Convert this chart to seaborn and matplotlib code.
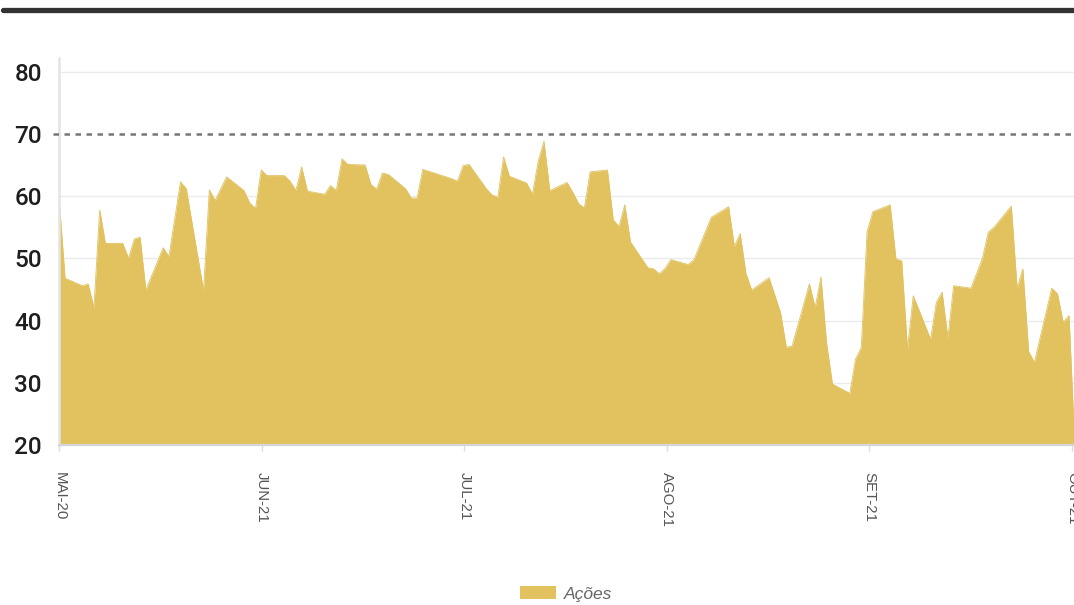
import matplotlib
matplotlib.use("Agg")
from matplotlib import pyplot as plt
from matplotlib import font_manager
import seaborn as sns
import pandas as pd

# trading-day index and index value
day = [0, 1, 4, 5, 6, 7, 8, 11, 12, 13, 14, 15, 18, 19, 21, 22, 25, 26, 27, 29,
       32, 33, 34, 35, 36, 39, 40, 41, 42, 43, 46, 47, 48, 49, 50, 53, 54, 55, 56, 57,
       60, 61, 62, 63, 67, 68, 69, 70, 71, 73, 74, 75, 76, 77, 78, 81, 82, 83, 84, 85,
       88, 89, 90, 91, 92, 95, 96, 97, 98, 99, 102, 103, 104, 105, 106, 109, 110, 113, 116, 117,
       118, 119, 120, 123, 125, 126, 127, 130, 131, 132, 133, 134, 137, 138, 139, 140, 141, 144, 145, 146,
       147, 148, 151, 152, 153, 154, 155, 158, 160, 161, 162, 165, 166, 167, 168, 169, 172, 173, 174, 175,
       176]
acoes = [59.1, 46.8, 45.6, 45.9, 42.1, 57.8, 52.4, 52.4, 50.0, 53.1, 53.4, 44.9, 51.7, 50.3, 62.3, 61.2, 44.8, 61.0, 59.3, 63.1,
         60.9, 58.9, 58.0, 64.2, 63.3, 63.3, 62.4, 60.9, 64.7, 60.8, 60.3, 61.7, 60.9, 66.0, 65.1, 65.0, 61.9, 61.1, 63.7, 63.5,
         61.2, 59.7, 59.7, 64.3, 63.1, 62.8, 62.4, 64.9, 65.1, 62.5, 61.2, 60.2, 59.8, 66.3, 63.2, 62.1, 60.3, 65.6, 68.8, 60.9,
         62.2, 60.6, 58.8, 58.1, 63.9, 64.2, 56.2, 55.1, 58.6, 52.6, 48.5, 48.3, 47.5, 48.4, 49.8, 49.0, 49.8, 56.6, 58.3, 51.9,
         54.0, 47.6, 44.9, 46.9, 41.3, 35.7, 35.9, 45.9, 42.1, 47.0, 36.2, 29.8, 28.3, 33.8, 35.7, 54.3, 57.5, 58.6, 49.9, 49.6,
         35.4, 44.0, 37.0, 42.9, 44.6, 37.2, 45.6, 45.2, 50.0, 54.2, 55.0, 58.4, 45.2, 48.3, 35.0, 33.3, 45.2, 44.3, 39.7, 40.8,
         20.0]

tick_pos = [0, 35.1, 70.2, 105.3, 140.4, 175.5]
tick_labels = ["MAI-20", "JUN-21", "JUL-21", "AGO-21", "SET-21", "OUT-21"]
y_ticks = [20, 30, 40, 50, 60, 70, 80]
limite = 70

df = pd.DataFrame({"day": day, "acoes": acoes})

sns.set_theme(style="white")
plt.rcParams["font.family"] = ["Liberation Sans", "DejaVu Sans"]

# narrow face for the y labels if the system has one
names = {f.name for f in font_manager.fontManager.ttflist}
narrow = "Liberation Sans Narrow" if "Liberation Sans Narrow" in names else "Roboto"

W, H = 1074, 605
fig = plt.figure(figsize=(W / 100, H / 100), dpi=100)
ax = fig.add_axes([59.3 / W, (H - 445) / H, 1015.5 / W, 387 / H])

gold = "#E1C25F"
sns.lineplot(data=df, x="day", y="acoes", ax=ax, color=gold, linewidth=0.6, legend=False)
ax.fill_between(df["day"], df["acoes"], 20, color=gold, linewidth=0, label="Ações", zorder=2)

ax.set_xlim(0, 176)
ax.set_ylim(20, 82.2)

# grid
for yv in y_ticks[1:]:
    if yv != limite:
        ax.axhline(yv, color="#ebebeb", lw=1.0, zorder=0)
ax.axhline(limite, xmin=-6 / 1015.5, color="#777777", lw=1.8,
           dashes=(2.2, 2.2), zorder=3, clip_on=False)

ax.set_yticks(y_ticks)
ax.set_yticklabels([str(v) for v in y_ticks], family=[narrow, "DejaVu Sans"],
                   fontsize=17.5, fontweight="medium", color="#1e1e1e")
ax.set_xticks(tick_pos)
ax.set_xticklabels(tick_labels, rotation=270, fontsize=10.8, color="#555555")
ax.tick_params(axis="y", length=4.5, width=1, color="#dddddd", pad=8)
ax.tick_params(axis="x", length=4.5, width=1, color="#dddddd", pad=15, bottom=True)

for side in ["top", "right"]:
    ax.spines[side].set_visible(False)
ax.spines["left"].set_color("#e4e4e4")
ax.spines["left"].set_linewidth(1.8)
ax.spines["bottom"].set_color("#d6d6d6")
ax.spines["bottom"].set_linewidth(1.6)
ax.set_xlabel("")
ax.set_ylabel("")

# dark bar across the top
fig.add_artist(plt.Line2D([3 / W, 1], [1 - 9.5 / H, 1 - 9.5 / H], color="#333333", lw=3.8))

handles, labels = ax.get_legend_handles_labels()
leg = fig.legend(handles, labels, loc="center", bbox_to_anchor=(566 / W, 1 - 594 / H),
                 frameon=False, fontsize=12.5, handlelength=2.1, handleheight=0.8,
                 handletextpad=0.45)
for t in leg.get_texts():
    t.set_color("#666666")
    t.set_style("italic")

plt.savefig("out.png", dpi=100)
